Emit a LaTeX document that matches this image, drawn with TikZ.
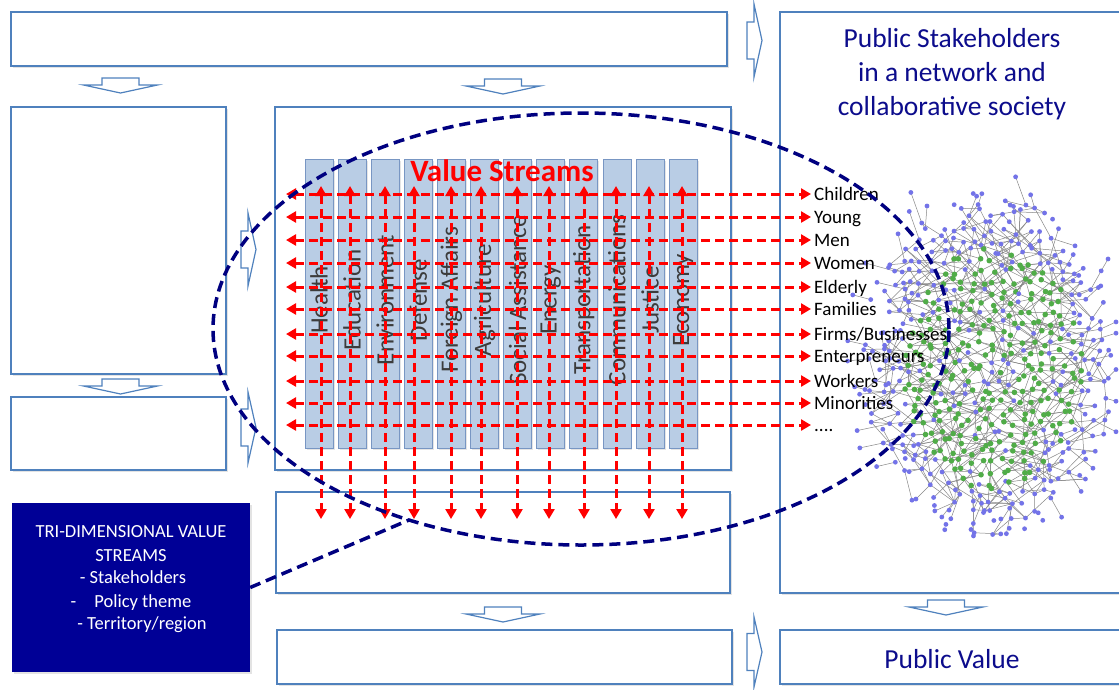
\documentclass[tikz,border=0pt]{standalone}
\usepackage{fontspec}
\setmainfont{Carlito}
\usetikzlibrary{arrows.meta,shadows,shapes.geometric}
\definecolor{boxblue}{RGB}{79,129,189}
\definecolor{colfill}{RGB}{185,205,229}
\definecolor{colline}{RGB}{120,150,195}
\definecolor{navyd}{RGB}{0,0,128}
\definecolor{trifill}{RGB}{0,0,150}
\definecolor{titleblue}{RGB}{12,12,140}
\definecolor{netgreen}{RGB}{80,172,72}
\definecolor{netblue}{RGB}{115,115,232}
\definecolor{netgray}{RGB}{135,135,135}
\definecolor{coltext}{RGB}{60,60,60}
\newcommand{\dnblock}[2]{\draw[blockarrow] ({#1-18.5},#2) -- ({#1+18.5},#2) -- ({#1+18.5},{#2+7}) -- ({#1+37},{#2+7}) -- (#1,{#2+15}) -- ({#1-37},{#2+7}) -- ({#1-18.5},{#2+7}) -- cycle;}
\newcommand{\rtblock}[3]{\draw[blockarrow] (#1,{(#2+#3)/2-18.5}) -- ({#1+7},{(#2+#3)/2-18.5}) -- ({#1+7},#2) -- ({#1+15},{(#2+#3)/2}) -- ({#1+7},#3) -- ({#1+7},{(#2+#3)/2+18.5}) -- (#1,{(#2+#3)/2+18.5}) -- cycle;}
\begin{document}
\begin{tikzpicture}[x=1pt,y=-1pt,
  panel/.style={draw=boxblue, line width=1.3pt, fill=white, drop shadow={opacity=0.22, shadow xshift=2pt, shadow yshift=-2pt}},
  blockarrow/.style={draw=boxblue, line width=1.2pt, fill=white, line join=miter},
  vstream/.style={draw=colline, line width=0.8pt, fill=colfill, minimum width=28pt, minimum height=289pt, inner sep=0, drop shadow={opacity=0.2, shadow xshift=1.5pt, shadow yshift=-1.5pt}},
  coltxt/.style={rotate=90, font=\fontsize{25}{29}\selectfont, text=coltext, inner sep=0},
  redarrow/.style={red, line width=3pt, dash pattern=on 9pt off 5pt, {Triangle[length=10pt,width=11pt]}-{Triangle[length=10pt,width=11pt]}},
  lab/.style={anchor=west, inner sep=0, font=\fontsize{19}{23}\selectfont, text height=14pt, text depth=2pt},
  navydash/.style={navyd, line width=3.5pt, dash pattern=on 11pt off 6pt},
  titletxt/.style={anchor=base, inner sep=0, text=titleblue, font=\fontsize{27.5}{33}\selectfont},
  tritxt/.style={anchor=base, inner sep=0, text=white, font=\fontsize{18.5}{23}\selectfont},
  netedge/.style={netgray, line width=0.5pt}
]
\useasboundingbox (0,0) rectangle (1119,689);
% panels
\draw[panel] (11,12) rectangle (727,66);
\draw[panel] (11,107) rectangle (226,374);
\draw[panel] (11,397) rectangle (226,470);
\draw[panel] (275,107) rectangle (731,470);
\draw[panel] (276,492) rectangle (730,593);
\draw[panel] (277,630) rectangle (732,684);
\draw[panel] (780,12) rectangle (1135,593);
\draw[panel] (780,630) rectangle (1135,684);
% network
\pgfmathsetseed{4711}
\foreach \nr in {0,...,35}{%
  \foreach \nc in {0,...,25}{%
    \pgfmathsetmacro\npx{862+\nc*10+rand*4}%
    \pgfmathsetmacro\npy{192+\nr*10+rand*4}%
    \pgfmathsetmacro\nwd{sqrt(((\npx-992)/122)^2+((\npy-367)/165)^2)}%
    \pgfmathtruncatemacro\pres{ifthenelse(\nwd<0.8,1,ifthenelse(\nwd<1.08,rnd>(\nwd-0.8)*3,0))}%
    \ifnum\pres=1
      \pgfmathtruncatemacro\grn{ifthenelse(\nwd<0.74,rnd>0.25,0)}%
      \coordinate (n-\nr-\nc) at (\npx,\npy);
      \expandafter\xdef\csname nt@\nr @\nc\endcsname{\grn}%
      \pgfmathtruncatemacro\spk{ifthenelse(\nwd>0.78,rnd<0.22,0)}%
      \ifnum\spk=1
        \pgfmathsetmacro\nwang{atan2(\npy-367,\npx-992)+rand*35}%
        \pgfmathsetmacro\nwlen{10+rnd*24}%
        \pgfmathsetmacro\spx{min(1116,\npx+\nwlen*cos(\nwang))}%
        \pgfmathsetmacro\spy{\npy+\nwlen*sin(\nwang)}%
        \coordinate (s-\nr-\nc) at (\spx,\spy);
        \expandafter\xdef\csname sp@\nr @\nc\endcsname{1}%
      \fi
    \fi
  }}
\foreach \nr in {0,...,35}{%
  \foreach \nc in {0,...,25}{%
    \ifcsname nt@\nr @\nc\endcsname
      \foreach \k in {1,2}{%
        \pgfmathtruncatemacro\ddr{int(rnd*3.5)}%
        \pgfmathtruncatemacro\ddc{ifthenelse(\ddr==0,1+int(rnd*3),int(rnd*7)-3)}%
        \pgfmathtruncatemacro\tgr{\nr+\ddr}%
        \pgfmathtruncatemacro\tgc{\nc+\ddc}%
        \ifcsname nt@\tgr @\tgc\endcsname \draw[netedge] (n-\nr-\nc) -- (n-\tgr-\tgc);\fi
      }%
      \ifcsname sp@\nr @\nc\endcsname \draw[netedge] (n-\nr-\nc) -- (s-\nr-\nc);\fi
    \fi
  }}
\foreach \nr in {0,...,35}{%
  \foreach \nc in {0,...,25}{%
    \ifcsname nt@\nr @\nc\endcsname
      \expandafter\ifnum\csname nt@\nr @\nc\endcsname=1
        \fill[netgreen] (n-\nr-\nc) circle (2.8pt);
      \else
        \fill[netblue] (n-\nr-\nc) circle (2.4pt);
      \fi
      \ifcsname sp@\nr @\nc\endcsname \fill[netblue] (s-\nr-\nc) circle (2.4pt);\fi
    \fi
  }}
% block arrows
\dnblock{120.5}{78}
\dnblock{503}{79}
\dnblock{120.5}{379}
\dnblock{503}{607}
\dnblock{946}{600}
\rtblock{747}{4}{77}
\rtblock{241}{213}{286}
\rtblock{241}{392}{463}
\rtblock{747}{617}{687}
% tri-dimensional box
\node[fill=trifill, minimum width=238pt, minimum height=169pt, inner sep=0, drop shadow={opacity=0.22, shadow xshift=2pt, shadow yshift=-2pt}] (tri) at (131,587.5) {};
\node[tritxt] (tri1) at (131,537) {TRI-DIMENSIONAL VALUE};
\node[tritxt] (tri2) at (131,561) {STREAMS};
\node[tritxt] (tri3) at (133,583) {- Stakeholders};
\node[tritxt] (tri4) at (131,607) {-\hspace{18pt}Policy theme};
\node[tritxt] (tri5) at (142,629) {- Territory/region};
% value stream columns
\foreach \i/\lbl in {0/Health,1/Education,2/Environment,3/Defense,4/Foreign Affairs,5/Agriculture,6/Social Assistance,7/Energy,8/Transportation,9/Communications,10/Justice,11/Economy}{
  \pgfmathsetmacro\xl{319+33.1*\i}
  \node[vstream] (col\i) at (\xl,303.5) {};
  \node[coltxt] (ct\i) at (\xl,300) {\lbl};
}
\node[anchor=base, inner sep=0, text=red, font=\bfseries\fontsize{31}{35}\selectfont] (vs) at (502,181) {Value Streams};
% vertical red arrows
\foreach \i/\xa in {1/321,2/350,3/385,4/414,5/451,6/481,7/517,8/549,9/584,10/616,11/649,12/682}{
  \coordinate (vt\i) at (\xa,186);
  \coordinate (vb\i) at (\xa,519);
  \draw[redarrow] (vt\i) -- (vb\i);
}
% stakeholder labels
\node[lab] (l1) at (814,194) {Children};
\node[lab] (l2) at (814,217) {Young};
\node[lab] (l3) at (814,240) {Men};
\node[lab] (l4) at (814,263) {Women};
\node[lab] (l5) at (814,287) {Elderly};
\node[lab] (l6) at (814,309) {Families};
\node[lab] (l7) at (814,334) {Firms/Businesses};
\node[lab] (l8) at (814,356) {Enterpreneurs};
\node[lab] (l9) at (814,381) {Workers};
\node[lab] (l10) at (814,403) {Minorities};
\node[lab] (l11) at (814,425) {....};
\foreach \i/\ya in {1/194,2/217,3/240,4/263,5/287,6/309,7/334,8/356,9/381,10/403,11/425}{
  \coordinate (hl\i) at (286,\ya);
  \draw[redarrow, shorten >=3pt] (hl\i) -- (l\i.west);
}
% titles
\node[titletxt] (pst1) at (952,47) {Public Stakeholders};
\node[titletxt] (pst2) at (952,81) {in a network and};
\node[titletxt] (pst3) at (952,115) {collaborative society};
\node[titletxt] (pv) at (952,668) {Public Value};
% ellipse and connector
\node[ellipse, draw, navydash, minimum width=736pt, minimum height=432pt, inner sep=0, outer sep=0] (ell) at (581,329) {};
\draw[navydash] (tri.east) -- (ell.228.8);
\end{tikzpicture}
\end{document}
